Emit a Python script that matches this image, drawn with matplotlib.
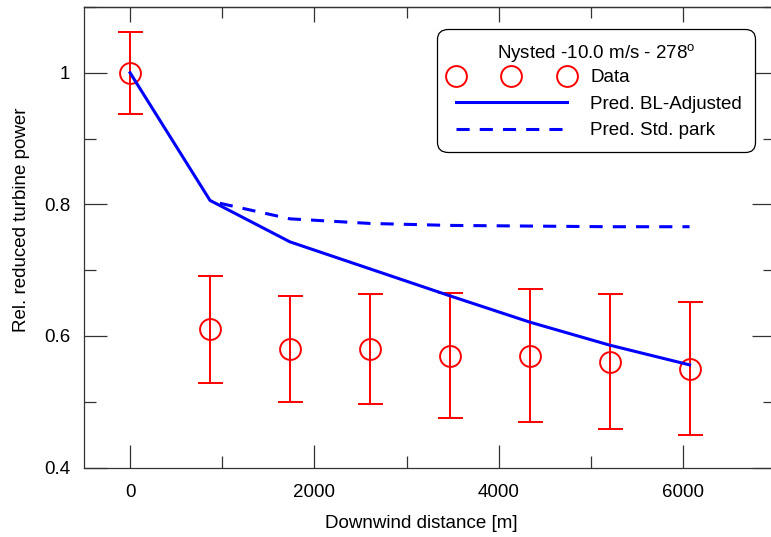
import numpy as np
import matplotlib
matplotlib.use('Agg')
import matplotlib.pyplot as plt
from matplotlib.lines import Line2D
from matplotlib.ticker import MultipleLocator

plt.rcParams['font.family'] = ['Liberation Sans', 'DejaVu Sans']
plt.rcParams['mathtext.fontset'] = 'custom'
plt.rcParams['mathtext.rm'] = 'Liberation Sans'

# turbine positions downwind [m]
distance = [0, 867, 1734, 2601, 3468, 4335, 5202, 6069]
data_power = [1.0, 0.61, 0.58, 0.58, 0.57, 0.57, 0.561, 0.55]
data_err = [0.062, 0.081, 0.08, 0.083, 0.095, 0.101, 0.103, 0.101]
bl_adjusted = [1.0, 0.806, 0.743, 0.702, 0.661, 0.621, 0.586, 0.556]
std_park_dist = [867, 1734, 2601, 3468, 4335, 5202, 6069]
std_park = [0.805, 0.778, 0.771, 0.768, 0.767, 0.766, 0.766]

legend_title = 'Nysted -10.0 m/s - 278$^{\\mathrm{o}}$'
fs = 13.5
gray = '#333333'

fig = plt.figure(figsize=(7.71, 5.37), dpi=100)
# right spine sits just past the image edge
ax = fig.add_axes([84 / 771, 69.5 / 537, 691.4 / 771, 460.5 / 537])

ax.errorbar(distance, data_power, yerr=data_err, fmt='o', color='#ff0000', mfc='none',
            mec='#ff0000', ms=15, mew=1.4, elinewidth=1.4, capsize=9, capthick=1.4, zorder=2)
ax.plot(distance, bl_adjusted, color='#0000ff', lw=2.2, zorder=3)
ax.plot(std_park_dist, std_park, color='#0000ff', lw=2.2, linestyle=(4.3, (4.3, 3.3)), zorder=3)

ax.set_xlim(-500, 7000)
ax.set_ylim(0.4, 1.1)
ax.xaxis.set_major_locator(MultipleLocator(2000))
ax.xaxis.set_minor_locator(MultipleLocator(1000))
ax.yaxis.set_major_locator(MultipleLocator(0.2))
ax.yaxis.set_minor_locator(MultipleLocator(0.1))
ax.set_yticks([0.4, 0.6, 0.8, 1.0])
ax.set_yticklabels(['0.4', '0.6', '0.8', '1'])

for sp in ax.spines.values():
    sp.set_color(gray)
    sp.set_linewidth(0.9)

ax.tick_params(which='both', direction='in', color=gray, width=0.9, labelsize=fs,
               bottom=True, left=True, right=True, top=False)
ax.tick_params(axis='x', which='major', length=16.5, pad=12)
ax.tick_params(axis='x', which='minor', length=8.6)
ax.tick_params(axis='y', which='major', length=16.5, pad=10)
ax.tick_params(axis='y', which='minor', length=8.3)

# shorter ticks along the top
top = ax.secondary_xaxis('top')
top.xaxis.set_major_locator(MultipleLocator(2000))
top.xaxis.set_minor_locator(MultipleLocator(1000))
top.tick_params(which='both', direction='in', color=gray, width=0.9, labeltop=False)
top.tick_params(which='major', length=10.8)
top.tick_params(which='minor', length=8)
top.spines['top'].set_color(gray)
top.spines['top'].set_linewidth(0.9)

ax.set_xlabel('Downwind distance [m]', fontsize=fs)
ax.set_ylabel('Rel. reduced turbine power', fontsize=fs)
ax.xaxis.set_label_coords(0.488, -0.103)
ax.yaxis.set_label_coords(-0.078, 0.5375)

handles = [
    Line2D([], [], marker='o', ls='none', mfc='none', mec='#ff0000', ms=15, mew=1.4),
    Line2D([], [], color='#0000ff', lw=2.2),
    Line2D([], [], color='#0000ff', lw=2.2, linestyle=(0, (4.3, 3.3))),
]
labels = ['Data', 'Pred. BL-Adjusted', 'Pred. Std. park']
leg = ax.legend(handles, labels, title=legend_title, fontsize=fs, title_fontsize=fs,
                loc='upper right', bbox_to_anchor=(755 / 771, 1 - 29 / 537),
                bbox_transform=fig.transFigure, borderaxespad=0, numpoints=3,
                handlelength=6.5, handletextpad=0.95, labelspacing=0.5,
                borderpad=0.7, frameon=True, fancybox=True, framealpha=1)
leg._legend_box.sep = 3.0  # tighter gap under the title
frame = leg.get_frame()
frame.set_edgecolor('black')
frame.set_linewidth(0.9)
frame.set_boxstyle('round,pad=0,rounding_size=0.55')

fig.savefig('out.png', dpi=100)
